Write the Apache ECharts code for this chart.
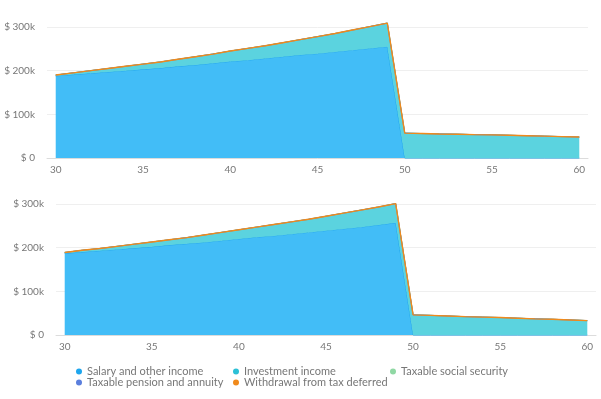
<!DOCTYPE html>
<html>
<head>
<meta charset="utf-8">
<script src="https://cdn.jsdelivr.net/npm/echarts@6/dist/echarts.min.js"></script>
<style>
    html, body { margin: 0; padding: 0; background: #fff; }
    #chart { width: 601px; height: 399px; }
</style>
</head>
<body>
<div id="chart"></div>
<script>
// ages on the x axis
const ages = [];
for (let a = 30; a <= 60; a++) ages.push(String(a));

// values in $ thousands
const salaryTop = [188, 191, 194, 197, 200, 203, 206, 210, 213, 217, 221, 224, 228, 232, 236, 239, 243, 247, 251, 255,
    0, 0, 0, 0, 0, 0, 0, 0, 0, 0, 0];
const investTop = [2, 4, 6, 8, 10, 12, 14, 16, 19, 21, 24, 27, 29, 32, 35, 39, 42, 46, 50, 54,
    57, 56, 55, 54.5, 53.5, 53, 52, 51, 50, 49, 48];
const salaryBottom = [187, 190, 193, 196, 199, 202, 206, 209, 212, 216, 220, 224, 227, 231, 235, 239, 243, 247, 252, 257,
    0, 0, 0, 0, 0, 0, 0, 0, 0, 0, 0];
const investBottom = [2, 4, 5, 7, 9, 11, 12, 14, 17, 19, 21, 23, 26, 28, 30, 33, 36, 39, 41, 44,
    46, 45, 43.5, 42, 41, 40, 38.5, 37, 36, 34.5, 33];
const zeros = ages.map(() => 0);

const yTicks = [0, 100, 200, 300];

const names = ['Salary and other income', 'Investment income', 'Taxable social security',
    'Taxable pension and annuity', 'Withdrawal from tax deferred'];
const lineColors = ['#1ea6ee', '#2cc0d6', '#90d8a4', '#5b7fdd', '#f08a1c'];
const areaColors = ['#42bdf7', '#5bd3df', '#90d8a4', '#5b7fdd', '#f08a1c'];

const FONT = 'Lato';

function k(v) {
    return v * 1000;
}

function makeSeries(idx, dataSets, stack) {
    return dataSets.map((d, i) => {
        const s = {
            name: names[i],
            type: 'line',
            stack: stack,
            xAxisIndex: idx,
            yAxisIndex: idx,
            symbol: 'none',
            clip: false,
            data: d.map(k),
            color: lineColors[i],
            lineStyle: { width: i === 4 ? 1.4 : 1, color: lineColors[i] },
            z: 2 + i
        };
        if (i < 2) s.areaStyle = { color: areaColors[i], opacity: 1 };
        return s;
    });
}

const xAxisBase = {
    type: 'category',
    data: ages,
    boundaryGap: true,
    axisLine: { lineStyle: { color: '#dcdcdc' } },
    axisTick: { show: false },
    axisLabel: { interval: 4, color: '#777', fontSize: 10, margin: 7, fontFamily: FONT },
    splitLine: { show: false }
};

const yAxisBase = {
    type: 'value',
    min: 0,
    max: k(yTicks[yTicks.length - 1]),
    interval: k(100),
    axisLine: { show: false },
    axisTick: { show: false },
    axisLabel: {
        color: '#777', fontSize: 10, margin: 12, fontFamily: FONT,
        formatter: v => v === 0 ? '$ 0' : '$ ' + (v / 1000) + 'k'
    },
    splitLine: { lineStyle: { color: '#efefef' } }
};

const option = {
    animation: false,
    textStyle: { fontFamily: FONT },
    grid: [
        { left: 47, right: 13, top: 27, height: 131 },
        { left: 56, right: 5, top: 204, height: 131 }
    ],
    xAxis: [
        Object.assign({}, xAxisBase, { gridIndex: 0 }),
        Object.assign({}, xAxisBase, { gridIndex: 1 })
    ],
    yAxis: [
        Object.assign({}, yAxisBase, { gridIndex: 0 }),
        Object.assign({}, yAxisBase, { gridIndex: 1 })
    ],
    legend: {
        data: names.map((n, i) => ({ name: n, itemStyle: { color: lineColors[i] } })),
        left: 76,
        top: 366,
        width: 480,
        icon: 'circle',
        itemWidth: 6,
        itemHeight: 6,
        itemGap: 0,
        padding: 0,
        textStyle: { color: '#777', fontSize: 11, width: 146, lineHeight: 11, fontFamily: FONT }
    },
    series: [
        ...makeSeries(0, [salaryTop, investTop, zeros, zeros, zeros], 'top'),
        ...makeSeries(1, [salaryBottom, investBottom, zeros, zeros, zeros], 'bottom')
    ]
};

const myChart = echarts.init(document.querySelector('#chart'));
myChart.setOption(option);
</script>
</body>
</html>
